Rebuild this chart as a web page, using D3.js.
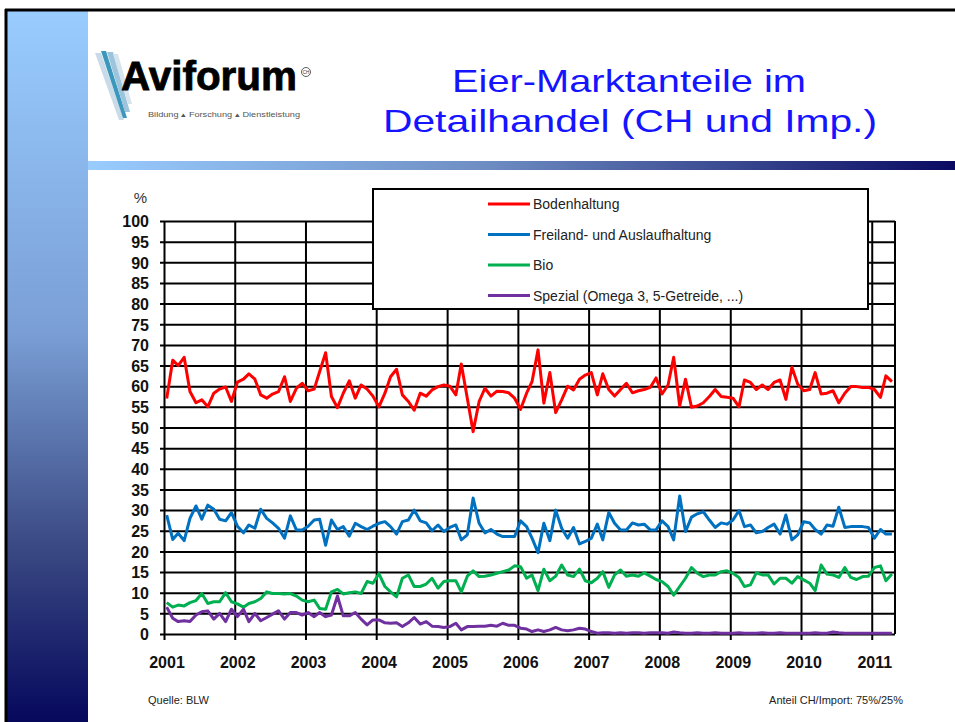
<!DOCTYPE html>
<html lang="de">
<head>
<meta charset="UTF-8">
<title>Eier-Marktanteile im Detailhandel</title>
<style>
  body { margin: 0; background: #fff; }
  svg { display: block; font-family: "Liberation Sans", Arial, sans-serif; }
  .grid line { stroke: #000; stroke-width: 2px; }
  .grid text { font-weight: bold; font-size: 16px; fill: #111; }
  .linie { fill: none; stroke-width: 3px; stroke-linejoin: round; }
</style>
<script src="https://cdn.jsdelivr.net/npm/d3@7"></script>
</head>
<body>
<script>
// Monatswerte ab Januar 2001 (Anteile in %)
var bodenhaltung = [
  57, 66.3, 65, 67, 58.7, 56, 56.7, 55, 58.3, 59.3, 59.8, 56.3,
  61, 61.7, 63, 61.7, 57.9, 57.1, 58.1, 58.7, 62.3, 56.3, 59.5, 60.7,
  58.9, 59.3, 63.5, 68.1, 57.5, 54.8, 58.3, 61.3, 57.1, 60.3, 59.3, 57.6,
  55, 58.3, 62.3, 64.1, 57.9, 56.3, 54.2, 58.3, 57.6, 59.1, 59.9, 60.3,
  60, 57.9, 65.4, 57.1, 49, 56.3, 59.5, 57.6, 58.8, 58.7, 58.4, 57.1,
  54.4, 58.3, 61.1, 68.8, 55.9, 63.3, 53.6, 56.7, 60, 59.1, 61.7, 62.7,
  63.3, 57.9, 63, 59.2, 57.6, 59.2, 60.7, 58.4, 58.9, 59.2, 59.7, 62,
  58.1, 60.3, 67, 55.2, 61.7, 54.9, 55.2, 56, 57.5, 59.2, 57.5, 57.3,
  57.1, 55, 61.5, 60.9, 59.2, 60.3, 59.2, 60.9, 61.5, 56.8, 64.6, 60.5,
  58.9, 59.2, 63.3, 58.1, 58.3, 58.9, 56, 58.3, 59.9, 59.9, 59.7, 59.7,
  59.2, 57.3, 62.5, 61.1
];
var freiland = [
  28.8, 22.9, 24.4, 22.6, 28, 31, 27.8, 31.2, 30.2, 27.8, 27.4, 29.4,
  26.1, 24.5, 26.4, 25.6, 30.2, 28, 26.9, 25.6, 23.2, 28.6, 25.2, 25.2,
  26.1, 27.6, 27.8, 21.5, 27.6, 25.3, 26, 23.7, 26.8, 26, 25.3, 26.1,
  26.8, 27.2, 26, 24.2, 27.2, 27.6, 30, 27.4, 26.9, 25, 26.4, 24.8,
  25.8, 26.4, 22.8, 24, 32.9, 26.8, 24.5, 25.3, 24.2, 23.6, 23.6, 23.6,
  27.4, 26, 23.2, 19.7, 26.8, 22.6, 30, 25.6, 23.2, 25.8, 21.8, 22.4,
  23.2, 26.6, 22.8, 29.4, 26.8, 25.2, 25.2, 26.9, 26.4, 26.6, 25.2, 25.2,
  27.4, 26, 22.8, 33.4, 24.8, 28.3, 29.1, 29.6, 27.6, 25.8, 26.9, 26.6,
  27.6, 29.9, 26, 26.4, 24.5, 24.8, 25.8, 26.6, 24.2, 28.8, 22.8, 24,
  27.2, 26.9, 25.3, 24.2, 26.4, 26.1, 30.7, 25.8, 26, 26, 26, 25.8,
  23.2, 25.3, 24.2, 24.2
];
var bio = [
  7.6, 6.5, 7, 6.8, 7.6, 8.1, 9.8, 7.4, 7.8, 7.8, 10, 7.8,
  7.3, 6.5, 7.4, 7.8, 8.6, 10.2, 9.8, 9.8, 9.7, 9.8, 9.2, 8.2,
  7.8, 8.2, 6.2, 6, 10.2, 10.8, 9.7, 10, 10.2, 9.8, 12.7, 12.3,
  14.6, 11.5, 10.2, 9, 13.5, 14.3, 11.5, 11.5, 12.1, 13.5, 11.1, 12.7,
  12.9, 12.9, 10.2, 14, 15.3, 13.9, 14, 14.3, 14.7, 15.1, 15.5, 16.5,
  16.3, 13.5, 14.3, 10.5, 15.7, 12.9, 14, 16.7, 14.3, 13.9, 15.7, 12.9,
  12.4, 13.5, 15.1, 11.3, 14.3, 15.5, 14, 14.3, 14, 14.8, 14, 13.2,
  12.7, 11.5, 9.4, 11.5, 13.5, 16.1, 14.7, 13.9, 14.3, 14.3, 15.1, 15.3,
  14.7, 13.7, 11.5, 11.9, 14.8, 14.3, 14.3, 12.1, 13.5, 13.5, 12.3, 13.9,
  13.1, 12.3, 10.5, 16.7, 14.5, 14.3, 13.7, 16.1, 13.7, 13.2, 13.9, 14,
  16.1, 16.5, 12.9, 14.5
];
var spezial = [
  6.5, 3.8, 3, 3.2, 3, 4.6, 5.4, 5.6, 3.6, 5, 3, 6,
  4.2, 6, 3, 5, 3.2, 4, 4.8, 5.6, 3.6, 5.2, 5.2, 4.6,
  5.2, 4.2, 5.2, 4.2, 4.6, 9.2, 4.4, 4.4, 5.2, 3.6, 2.2, 3.4,
  3.4, 2.7, 2.6, 2.7, 1.8, 2.7, 4, 2.4, 3, 1.9, 1.8, 1.6,
  1.8, 2.6, 1, 1.8, 1.8, 1.9, 1.9, 2.1, 1.9, 2.6, 2.1, 2.1,
  1.4, 1.2, 0.6, 1, 0.6, 1, 1.6, 1, 0.8, 1, 1.4, 1.2,
  0.6, 0.2, 0.3, 0.3, 0.2, 0.3, 0.2, 0.3, 0.3, 0.2, 0.3, 0.3,
  0.3, 0.2, 0.5, 0.3, 0.2, 0.2, 0.3, 0.2, 0.2, 0.3, 0.2, 0.2,
  0.2, 0.3, 0.2, 0.2, 0.2, 0.3, 0.2, 0.2, 0.3, 0.2, 0.2, 0.2,
  0.2, 0.2, 0.3, 0.2, 0.2, 0.5, 0.3, 0.2, 0.2, 0.2, 0.2, 0.2,
  0.2, 0.2, 0.2, 0.2
];
var serienNamen = ["Bodenhaltung", "Freiland- und Auslaufhaltung", "Bio", "Spezial (Omega 3, 5-Getreide, ...)"];
var yTicks = d3.range(0, 101, 5);
var jahre = d3.range(2001, 2012);

var farben = ["#ff0000", "#0070c0", "#00b050", "#7030a0"];

function grafik() {
  var breite = 955, hoehe = 722;
  var links = 164, rechts = 895, oben = 221, unten = 634;

  var svg = d3.select("body").append("svg")
      .attr("width", breite)
      .attr("height", hoehe);

  var defs = svg.append("defs");
  var gv = defs.append("linearGradient").attr("id", "seite")
      .attr("x1", 0).attr("y1", 0).attr("x2", 0).attr("y2", 1);
  gv.append("stop").attr("offset", "0").attr("stop-color", "#99ccff");
  gv.append("stop").attr("offset", "0.45").attr("stop-color", "#7a9fd6");
  gv.append("stop").attr("offset", "0.75").attr("stop-color", "#3b4a84");
  gv.append("stop").attr("offset", "1").attr("stop-color", "#06085c");
  var gh = defs.append("linearGradient").attr("id", "balken");
  gh.append("stop").attr("offset", "0").attr("stop-color", "#99ccff");
  gh.append("stop").attr("offset", "0.45").attr("stop-color", "#6f8fc4");
  gh.append("stop").attr("offset", "1").attr("stop-color", "#0a0a62");

  // Folienrahmen
  svg.append("rect").attr("x", 7).attr("y", 11).attr("width", 81).attr("height", hoehe - 11)
      .attr("fill", "url(#seite)");
  svg.append("line").attr("x1", 6).attr("x2", 6).attr("y1", 9).attr("y2", hoehe)
      .attr("stroke", "#000").attr("stroke-width", 3);
  svg.append("line").attr("x1", 5).attr("x2", breite).attr("y1", 10).attr("y2", 10)
      .attr("stroke", "#000").attr("stroke-width", 3);
  svg.append("rect").attr("x", 88).attr("y", 161).attr("width", breite - 88).attr("height", 9)
      .attr("fill", "url(#balken)");

  // Logo
  var logo = svg.append("g");
  logo.append("polygon").attr("points", "95,53 101,53 124,120 119,120").attr("fill", "#c9dbe9");
  logo.append("polygon").attr("points", "101,51 106,51 127,118 123,118").attr("fill", "#3c97bd");
  logo.append("polygon").attr("points", "107,52 113,52 130,112 125,112").attr("fill", "#9cc4dc");
  logo.append("polygon").attr("points", "113,54 118,54 132,104 128,104").attr("fill", "#d6e4ee");
  logo.append("text").attr("x", 121).attr("y", 90)
      .attr("font-size", 40).attr("font-weight", "bold").attr("fill", "#000")
      .attr("stroke", "#000").attr("stroke-width", 0.8)
      .attr("textLength", 176).attr("lengthAdjust", "spacingAndGlyphs")
      .text("Aviforum");
  logo.append("circle").attr("cx", 306).attr("cy", 72).attr("r", 4.5)
      .attr("fill", "none").attr("stroke", "#333").attr("stroke-width", 0.8);
  logo.append("text").attr("x", 306).attr("y", 74).attr("text-anchor", "middle")
      .attr("font-size", 4.5).attr("fill", "#333").text("CH");
  logo.append("text").attr("x", 148).attr("y", 117)
      .attr("font-size", 7).attr("fill", "#555")
      .attr("textLength", 152).attr("lengthAdjust", "spacingAndGlyphs")
      .text("Bildung \u25B4 Forschung \u25B4 Dienstleistung");

  // Titel
  svg.append("text").attr("x", 452).attr("y", 92)
      .attr("font-size", 32).attr("fill", "#1414ff")
      .attr("textLength", 354).attr("lengthAdjust", "spacingAndGlyphs")
      .text("Eier-Marktanteile im");
  svg.append("text").attr("x", 383).attr("y", 132)
      .attr("font-size", 32).attr("fill", "#1414ff")
      .attr("textLength", 494).attr("lengthAdjust", "spacingAndGlyphs")
      .text("Detailhandel (CH und Imp.)");

  // Skalen
  var x = d3.scaleTime()
      .domain([new Date(2001, 0, 1), new Date(2011, 4, 1)])
      .range([links, rechts]);
  var y = d3.scaleLinear()
      .domain([0, 100])
      .range([unten, oben]);

  // Gitter und Achsen
  svg.append("g").attr("class", "grid")
      .attr("transform", "translate(" + (links - 4) + ",0)")
      .call(d3.axisLeft(y).tickValues(yTicks).tickSizeInner(-(rechts - links + 4)).tickSizeOuter(0).tickPadding(11))
      .call(function(g) { g.select(".domain").remove(); })
      .selectAll("text").attr("dy", "0.36em");

  svg.append("g").attr("class", "grid")
      .attr("transform", "translate(0," + (unten + 6) + ")")
      .call(d3.axisBottom(x)
          .tickValues(jahre.map(function(j) { return new Date(j, 0, 1); }))
          .tickFormat(d3.timeFormat("%Y"))
          .tickSizeInner(-(unten + 6 - oben)).tickSizeOuter(0).tickPadding(17))
      .call(function(g) { g.select(".domain").remove(); })
      .selectAll("text").attr("dx", 2.5);

  svg.append("line").attr("x1", rechts).attr("x2", rechts).attr("y1", oben).attr("y2", unten)
      .attr("stroke", "#000").attr("stroke-width", 2);

  svg.append("text").attr("x", 147).attr("y", 203).attr("text-anchor", "end")
      .attr("font-size", 15).attr("fill", "#333").text("%");

  // Linien
  var linie = d3.line()
      .x(function(d, i) { return x(new Date(2001, i, 15)); })
      .y(function(d) { return y(d); });

  [bodenhaltung, freiland, bio, spezial].forEach(function(werte, k) {
    svg.append("path")
        .datum(werte)
        .attr("class", "linie")
        .attr("stroke", farben[k])
        .attr("d", linie);
  });

  // Legende
  var leg = svg.append("g");
  leg.append("rect").attr("x", 373).attr("y", 189).attr("width", 495).attr("height", 120)
      .attr("fill", "#fff").attr("stroke", "#000").attr("stroke-width", 2);
  var zeilen = [204, 234.5, 265, 295.5];
  serienNamen.forEach(function(name, k) {
    leg.append("line").attr("x1", 488).attr("x2", 530).attr("y1", zeilen[k]).attr("y2", zeilen[k])
        .attr("stroke", farben[k]).attr("stroke-width", 3);
    leg.append("text").attr("x", 533).attr("y", zeilen[k] + 5)
        .attr("font-size", 14).attr("fill", "#222").text(name);
  });

  // Fusszeile
  svg.append("text").attr("x", 148).attr("y", 704).attr("font-size", 11).attr("fill", "#222")
      .text("Quelle: BLW");
  svg.append("text").attr("x", 903).attr("y", 704).attr("text-anchor", "end")
      .attr("font-size", 11).attr("fill", "#222")
      .text("Anteil CH/Import: 75%/25%");
}

grafik();
</script>
</body>
</html>
